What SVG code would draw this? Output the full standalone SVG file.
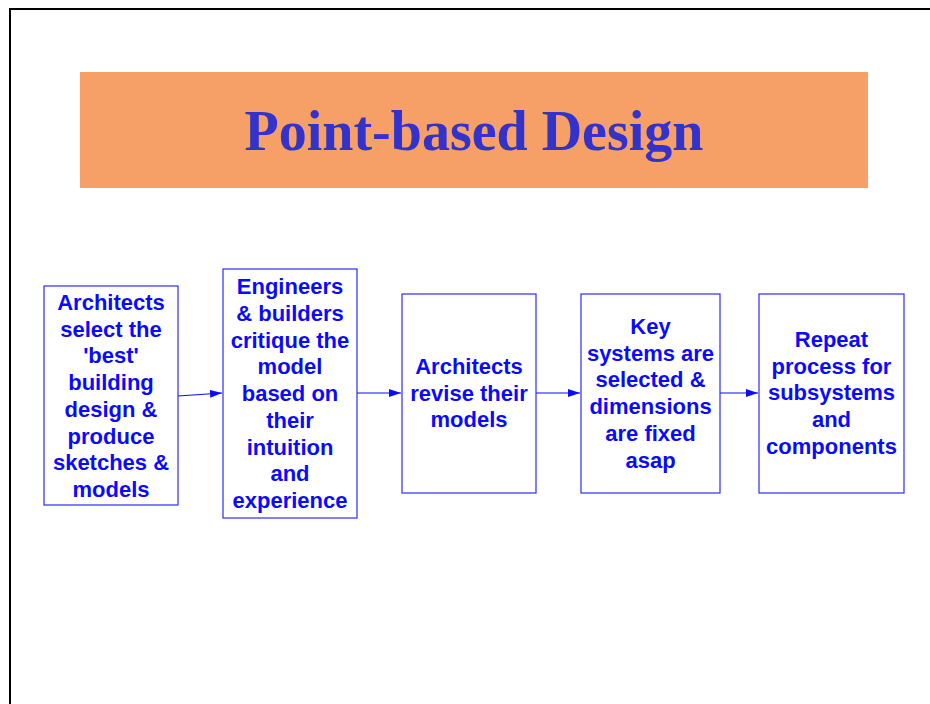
<svg xmlns="http://www.w3.org/2000/svg" width="930" height="704" viewBox="0 0 930 704">
<defs>
<style>
.box{fill:#ffffff;stroke:#2a2aff;stroke-width:1.2}
.t{font-family:"Liberation Sans",Arial,sans-serif;font-weight:bold;font-size:22px;fill:#0a0aff;text-anchor:middle}
.con{stroke:#0a0aff;stroke-width:1.2;fill:none}
.title{font-family:"Liberation Serif","Times New Roman",serif;font-weight:bold;font-size:56px;fill:#3333cc;text-anchor:middle}
</style>
<marker id="ah" viewBox="0 0 12 8" refX="12" refY="4" markerWidth="12" markerHeight="8" markerUnits="userSpaceOnUse" orient="auto">
<path d="M0,0 L12,4 L0,8 Z" fill="#0a0aff"/>
</marker>
</defs>
<rect width="930" height="704" fill="#ffffff"/>
<path d="M10,704 L10,9 L930,9" fill="none" stroke="#000000" stroke-width="2"/>
<g id="title">
<rect x="80" y="72" width="788" height="116" fill="#f6a068"/>
<text class="title" x="474" y="150">Point-based Design</text>
</g>
<g id="connectors">
<line class="con" x1="178" y1="396" x2="222" y2="393" marker-end="url(#ah)"/>
<line class="con" x1="357" y1="393" x2="401" y2="393" marker-end="url(#ah)"/>
<line class="con" x1="536" y1="393" x2="580" y2="393" marker-end="url(#ah)"/>
<line class="con" x1="720" y1="393" x2="758" y2="393" marker-end="url(#ah)"/>
</g>
<g id="n1">
<rect class="box" x="44" y="286" width="134" height="219"/>
<text class="t" x="111" y="310">Architects</text>
<text class="t" x="111" y="336.7">select the</text>
<text class="t" x="111" y="363.4">'best'</text>
<text class="t" x="111" y="390.1">building</text>
<text class="t" x="111" y="416.8">design &amp;</text>
<text class="t" x="111" y="443.5">produce</text>
<text class="t" x="111" y="470.2">sketches &amp;</text>
<text class="t" x="111" y="496.9">models</text>
</g>
<g id="n2">
<rect class="box" x="223" y="269" width="134" height="249"/>
<text class="t" x="290" y="294.3">Engineers</text>
<text class="t" x="290" y="321">&amp; builders</text>
<text class="t" x="290" y="347.7">critique the</text>
<text class="t" x="290" y="374.4">model</text>
<text class="t" x="290" y="401.1">based on</text>
<text class="t" x="290" y="427.8">their</text>
<text class="t" x="290" y="454.5">intuition</text>
<text class="t" x="290" y="481.2">and</text>
<text class="t" x="290" y="507.9">experience</text>
</g>
<g id="n3">
<rect class="box" x="402" y="294" width="134" height="199"/>
<text class="t" x="469" y="374">Architects</text>
<text class="t" x="469" y="400.7">revise their</text>
<text class="t" x="469" y="427.4">models</text>
</g>
<g id="n4">
<rect class="box" x="581" y="294" width="139" height="199"/>
<text class="t" x="650.5" y="334">Key</text>
<text class="t" x="650.5" y="360.7">systems are</text>
<text class="t" x="650.5" y="387.4">selected &amp;</text>
<text class="t" x="650.5" y="414.1">dimensions</text>
<text class="t" x="650.5" y="440.8">are fixed</text>
<text class="t" x="650.5" y="467.5">asap</text>
</g>
<g id="n5">
<rect class="box" x="759" y="294" width="145" height="199"/>
<text class="t" x="831.5" y="347">Repeat</text>
<text class="t" x="831.5" y="373.7">process for</text>
<text class="t" x="831.5" y="400.4">subsystems</text>
<text class="t" x="831.5" y="427.1">and</text>
<text class="t" x="831.5" y="453.8">components</text>
</g>
</svg>
